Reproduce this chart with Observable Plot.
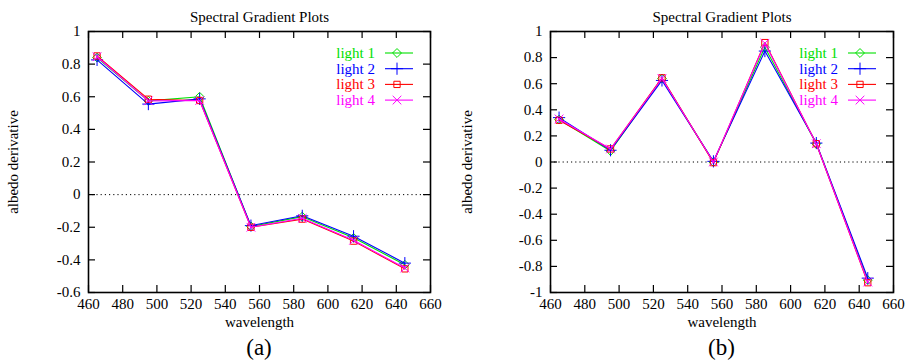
<!DOCTYPE html>
<html><head><meta charset="utf-8">
<script src="https://cdn.jsdelivr.net/npm/d3@7"></script>
<script src="https://cdn.jsdelivr.net/npm/@observablehq/plot@0.6"></script>
<style>
body{margin:0;background:#fff;font-family:"Liberation Serif","Times New Roman",Times,serif;}
#wrap{position:relative;width:908px;height:362px;overflow:hidden;}
.panel{position:absolute;top:0;}
.panel svg, .panel svg text{font-family:"Liberation Serif","Times New Roman",Times,serif !important;}
.cap{position:absolute;top:335px;font-size:23px;line-height:26px;transform:translateX(-50%);color:#000;}
</style></head><body><div id="wrap"></div>
<script>
const wavelengths = [465, 495, 525, 555, 585, 615, 645];
const seriesNames = ["light 1", "light 2", "light 3", "light 4"];
const seriesColors = ["#00e000", "#0000ff", "#ff0000", "#ff00ff"];
const seriesSymbols = ["diamond2", "plus", "square2", "times"];

// panel (a)
const aLight1 = [0.84, 0.575, 0.60, -0.195, -0.135, -0.265, -0.43];
const aLight2 = [0.826, 0.555, 0.587, -0.19, -0.13, -0.255, -0.42];
const aLight3 = [0.85, 0.585, 0.577, -0.20, -0.15, -0.285, -0.455];
const aLight4 = [0.845, 0.575, 0.577, -0.20, -0.145, -0.28, -0.45];

// panel (b)
const bLight1 = [0.325, 0.085, 0.64, 0.0, 0.88, 0.14, -0.905];
const bLight2 = [0.34, 0.09, 0.625, 0.005, 0.85, 0.145, -0.89];
const bLight3 = [0.32, 0.10, 0.645, -0.005, 0.915, 0.14, -0.925];
const bLight4 = [0.33, 0.10, 0.64, 0.0, 0.91, 0.14, -0.92];

const xTicks = [460, 480, 500, 520, 540, 560, 580, 600, 620, 640, 660];
const yTicksA = [-0.6, -0.4, -0.2, 0, 0.2, 0.4, 0.6, 0.8, 1];
const yTicksB = [-1, -0.8, -0.6, -0.4, -0.2, 0, 0.2, 0.4, 0.6, 0.8, 1];

const titleText = "Spectral Gradient Plots";
const xLabel = "wavelength";
const yLabel = "albedo derivative";
const captions = ["(a)", "(b)"];

const FONT = "'Liberation Serif', 'Times New Roman', Times, serif";
const W = 454, H = 335, MT = 31, MB = 43;
const symbolMap = {diamond2: d3.symbolDiamond2, plus: d3.symbolPlus, square2: d3.symbolSquare2, times: d3.symbolTimes};

function panel(series, yTicks, left, ml, mr, caption) {
  const rows = [];
  series.forEach((vals, i) => vals.forEach((v, j) => rows.push({x: wavelengths[j], y: v, s: seriesNames[i]})));
  const fw = W - ml - mr, fh = H - MT - MB;
  const marks = [
    Plot.ruleY([0], {stroke: "#000", strokeWidth: 1, strokeDasharray: "1.2,3"}),
    Plot.tickX(xTicks, {x: d => d, insetTop: fh - 7, stroke: "#000", strokeWidth: 1.2}),
    Plot.tickX(xTicks, {x: d => d, insetBottom: fh - 7, stroke: "#000", strokeWidth: 1.2}),
    Plot.tickY(yTicks, {y: d => d, insetRight: fw - 7, stroke: "#000", strokeWidth: 1.2}),
    Plot.tickY(yTicks, {y: d => d, insetLeft: fw - 7, stroke: "#000", strokeWidth: 1.2}),
    Plot.axisX(xTicks, {tickSize: 0, tickPadding: 6, fontSize: 15, label: xLabel, labelAnchor: "center", labelArrow: "none", labelOffset: 34}),
    Plot.axisY(yTicks, {tickSize: 0, tickPadding: 8, fontSize: 15, tickFormat: d => String(d), label: yLabel, labelAnchor: "center", labelArrow: "none", labelOffset: ml - 7})
  ];
  seriesNames.forEach((name, i) => {
    const data = rows.filter(r => r.s === name);
    marks.push(Plot.line(data, {x: "x", y: "y", stroke: seriesColors[i], strokeWidth: 1.1}));
    marks.push(Plot.dot(data, {x: "x", y: "y", stroke: seriesColors[i], symbol: seriesSymbols[i], r: 4, strokeWidth: 1}));
  });
  marks.push(Plot.frame({stroke: "#000", strokeWidth: 1.6}));
  marks.push(Plot.text([titleText], {frameAnchor: "top", dy: -20, fontSize: 15, fill: "#000"}));
  const chart = Plot.plot({
    width: W, height: H, marginTop: MT, marginBottom: MB, marginLeft: ml, marginRight: mr,
    style: {fontFamily: FONT, fontSize: "15px", color: "#000", background: "#fff"},
    x: {domain: [460, 660]},
    y: {domain: [yTicks[0], yTicks[yTicks.length - 1]]},
    marks
  });
  // legend (key) inside top-right, gnuplot style
  const svg = d3.select(chart);
  const fr = W - mr, ft = MT;
  const g = svg.append("g").attr("font-family", FONT).attr("font-size", 15);
  seriesNames.forEach((name, i) => {
    const y = ft + 22 + 15.7 * i;
    g.append("text").attr("x", fr - 55).attr("y", y).attr("dy", "0.32em").attr("text-anchor", "end").attr("fill", seriesColors[i]).text(name);
    g.append("line").attr("x1", fr - 45).attr("x2", fr - 17).attr("y1", y).attr("y2", y).attr("stroke", seriesColors[i]).attr("stroke-width", 1.1);
    g.append("path").attr("transform", `translate(${fr - 33},${y})`).attr("d", d3.symbol(symbolMap[seriesSymbols[i]], Math.PI * 16)()).attr("fill", "none").attr("stroke", seriesColors[i]).attr("stroke-width", 1);
  });
  const div = document.createElement("div");
  div.className = "panel";
  div.style.left = left + "px";
  div.appendChild(chart);
  document.getElementById("wrap").appendChild(div);
  const cap = document.createElement("div");
  cap.className = "cap";
  cap.style.left = (left + ml + fw / 2) + "px";
  cap.textContent = caption;
  document.getElementById("wrap").appendChild(cap);
}

panel([aLight1, aLight2, aLight3, aLight4], yTicksA, 0, 88, 24, captions[0]);
panel([bLight1, bLight2, bLight3, bLight4], yTicksB, 454, 96, 15, captions[1]);
</script></body></html>
